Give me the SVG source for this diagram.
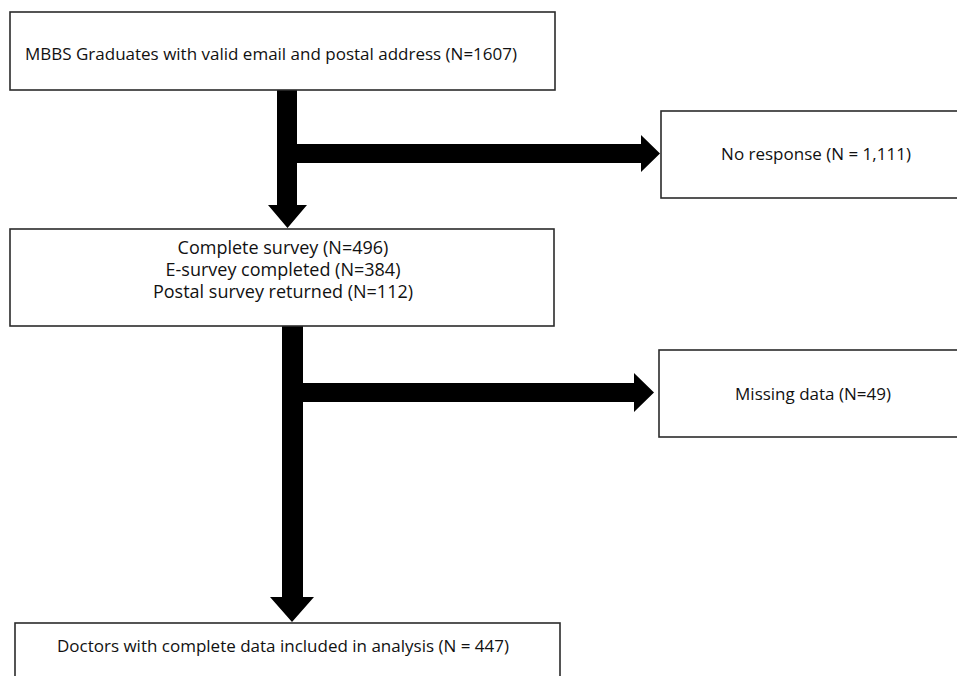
<svg xmlns="http://www.w3.org/2000/svg" width="957" height="676" viewBox="0 0 957 676">
<style>
.box{fill:#fff;stroke:#2b2b2b;stroke-width:1.6}
.t{font-family:"Open Sans","Noto Sans","Liberation Sans",sans-serif;font-size:17px;fill:#111}
.b{font-size:18px}
.m{text-anchor:middle}
.arr{fill:#000}
</style>
<rect width="957" height="676" fill="#fff"/>
<g id="connectors">
<path class="arr" d="M277,90 H297 V144 H641 V135 L660,153.5 L641,172 V163 H297 V205 H307 L287.5,228 L268,205 H277 Z"/>
<path class="arr" d="M282,326 H303 V383 H634 V373 L654,392.5 L634,412 V402 H303 V597 H314 L292,622 L270,597 H282 Z"/>
</g>
<g id="n1">
<rect class="box" x="10" y="12" width="545" height="78"/>
<text class="t" x="25" y="60">MBBS Graduates with valid email and postal address (N=1607)</text>
</g>
<g id="n2">
<rect class="box" x="661" y="111" width="310" height="87"/>
<text class="t m" x="816" y="160">No response (N = 1,111)</text>
</g>
<g id="n3">
<rect class="box" x="10" y="229" width="544" height="97"/>
<text class="t b m" x="283" y="254">Complete survey (N=496)</text>
<text class="t b m" x="283" y="276">E-survey completed (N=384)</text>
<text class="t b m" x="283" y="298">Postal survey returned (N=112)</text>
</g>
<g id="n4">
<rect class="box" x="659" y="350" width="310" height="87"/>
<text class="t m" x="813" y="400">Missing data (N=49)</text>
</g>
<g id="n5">
<rect class="box" x="15" y="623" width="545" height="70"/>
<text class="t m" x="283" y="652">Doctors with complete data included in analysis (N = 447)</text>
</g>
</svg>
